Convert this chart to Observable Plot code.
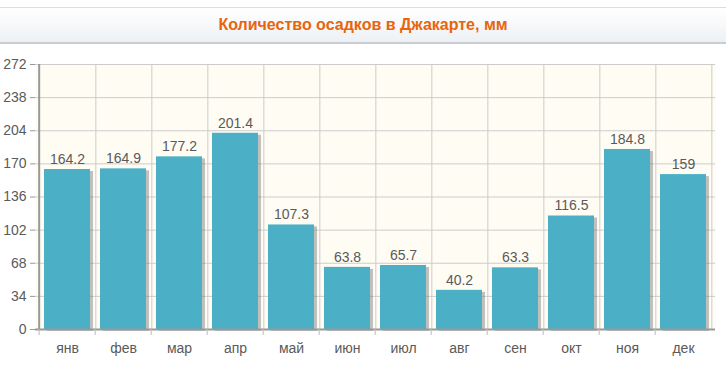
<!DOCTYPE html>
<html><head><meta charset="utf-8">
<script src="https://cdn.jsdelivr.net/npm/d3@7"></script>
<script src="https://cdn.jsdelivr.net/npm/@observablehq/plot@0.6"></script>
<style>
body{margin:0;background:#fff;}
#hdr{margin-top:7px;height:34px;border-top:1px solid #ddd;border-bottom:2px solid #c8cdd2;background:linear-gradient(#ffffff,#edf1f4);text-align:center;font:bold 16px "Liberation Sans",Arial,sans-serif;color:#e8650a;line-height:34px;}
</style></head><body>
<div id="hdr">Количество осадков в Джакарте, мм</div>
<div id="chart"></div>
<script>
const months = ["янв","фев","мар","апр","май","июн","июл","авг","сен","окт","ноя","дек"];
const values = [164.2,164.9,177.2,201.4,107.3,63.8,65.7,40.2,63.3,116.5,184.8,159];
const yTicks = [0,34,68,102,136,170,204,238,272];
const data = months.map((m,i)=>({m, v: values[i]}));
const W=726, H=327, mL=35, mR=11;
const step=(W-mL-mR)/months.length;
const chart = Plot.plot({
  width: W, height: H,
  marginLeft: mL, marginRight: mR, marginTop: 20, marginBottom: 42,
  style:{fontFamily:"'Liberation Sans',Arial,sans-serif", fontSize:"13px", color:"#5a5a5a", background:"#fff"},
  x:{type:"band", domain: months, paddingInner:0.175, paddingOuter:0.0875, label:null},
  y:{type:"linear", domain:[0,272], label:null},
  marks:[
    Plot.frame({fill:"#fffcf4", stroke:null}),
    Plot.ruleY(yTicks,{y:d=>d, stroke:"#ccc", strokeWidth:1}),
    Plot.ruleX(months,{x:d=>d, dx:step/2, stroke:"#ccc", strokeWidth:1}),
    Plot.barY(data,{x:"m", y:"v", fill:"#777", fillOpacity:0.45, dx:3, dy:2}),
    Plot.barY(data,{x:"m", y:"v", fill:"#4bb0c6"}),
    Plot.text(data,{x:"m", y:"v", text:d=>String(d.v), dy:-10, fill:"#5a5a5a", fontSize:14}),
    Plot.ruleX([months[0]],{x:d=>d, dx:-step/2, stroke:"#999", strokeWidth:2}),
    Plot.ruleY([0],{y:d=>d, stroke:"#999", strokeWidth:2}),
    Plot.axisY({ticks:yTicks, tickSize:5, tickPadding:4, stroke:"#999", fill:"#5a5a5a", fontSize:14}),
    Plot.axisX({tickSize:6, dx:-step/2, stroke:"#bbb", tickFormat:()=>""}),
    Plot.axisX({tickSize:0, tickPadding:14, fill:"#5a5a5a", fontSize:14})
  ]
});
document.getElementById("chart").appendChild(chart);
</script>
</body></html>
